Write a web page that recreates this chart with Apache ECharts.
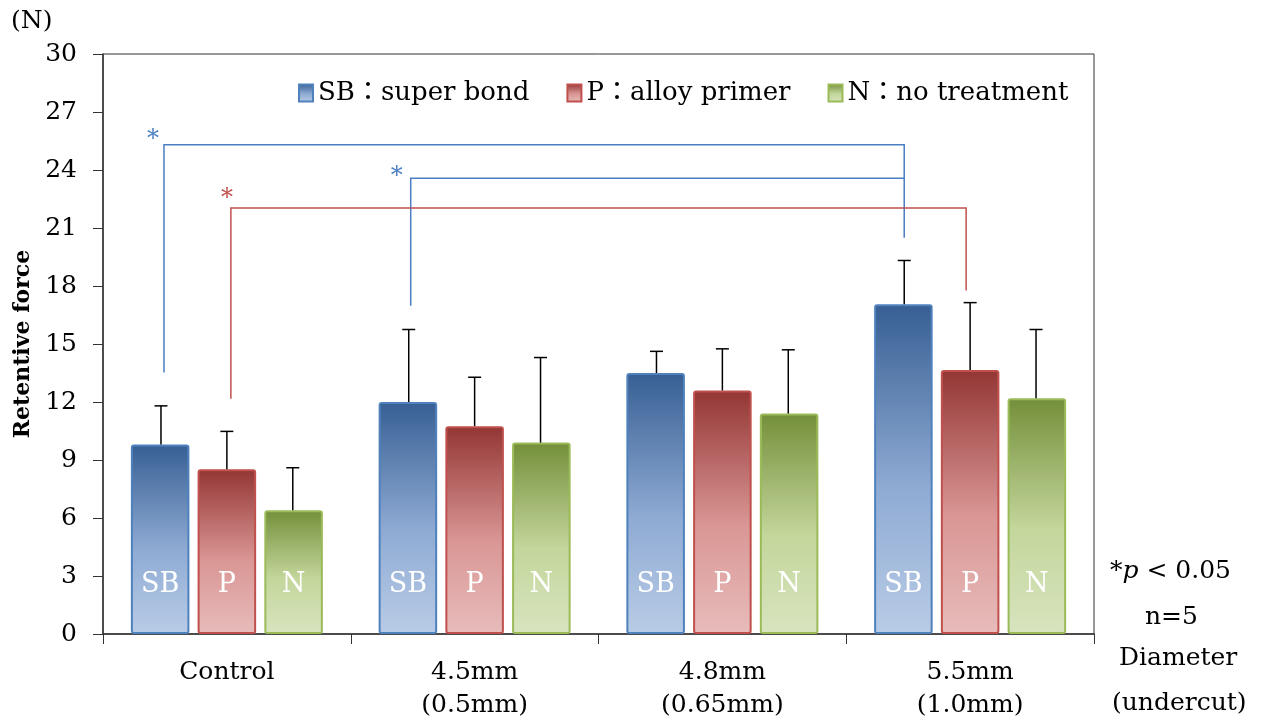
<!DOCTYPE html>
<html>
<head>
<meta charset="utf-8">
<script src="https://cdn.jsdelivr.net/npm/echarts@6/dist/echarts.min.js"></script>
<style>html,body{margin:0;padding:0;background:#fff}#c{width:1263px;height:725px}</style>
</head>
<body>
<div id="c"></div>
<script>
const categories = ['Control', '4.5mm\n(0.5mm)', '4.8mm\n(0.65mm)', '5.5mm\n(1.0mm)'];
const seriesNames = ['SB：super bond', 'P：alloy primer', 'N：no treatment'];
const barLabels = ['SB', 'P', 'N'];
const sbMean = [9.8, 12.0, 13.5, 17.05];
const sbErrTop = [11.8, 15.75, 14.62, 19.32];
const pMean = [8.52, 10.75, 12.6, 13.65];
const pErrTop = [10.48, 13.28, 14.75, 17.14];
const nMean = [6.4, 9.9, 11.4, 12.2];
const nErrTop = [8.6, 14.3, 14.7, 15.75];
const yTicks = [0, 3, 6, 9, 12, 15, 18, 21, 24, 27, 30];
// significance brackets: [catFrom, seriesFrom, catTo, seriesTo, topValue, fromBottom, toBottom]
const bracketA = [0, 0, 3, 0, 25.3, 13.52, 20.5];
const bracketB = [1, 0, 3, 0, 23.57, 16.98, 23.57];
const bracketC = [0, 1, 3, 1, 22.04, 12.17, 17.77];

const FONT = "'DejaVu Serif', 'Noto Sans CJK JP', serif";
const colors = [
  {top:'#375f93', mid:'#8eaad3', bottom:'#b9cce6', border:'#4f81bd', line:'#4a7ec2'},
  {top:'#933634', mid:'#d99694', bottom:'#e7bcbb', border:'#c0504d', line:'#c0504d'},
  {top:'#748f3a', mid:'#c3d69b', bottom:'#d8e4bf', border:'#9bbb59', line:'#9bbb59'}
];
// drawing style tweaks for the brackets (pixel nudges of the line ends and the stars)
const bracketStyle = [
  {dx1: 3, dx2: 0, starDx: -11, starDy: -11},
  {dx1: 2, dx2: 0, starDx: -14, starDy: -8},
  {dx1: 4, dx2: -4, starDx: -4, starDy: -15}
];
const means = [sbMean, pMean, nMean];
const errs = [sbErrTop, pErrTop, nErrTop];
const OFF = 0.266; // fraction of band width between adjacent bar centres

const chart = echarts.init(document.getElementById('c'));
const series = [];
means.forEach((m, i) => {
  series.push({
    type: 'bar', name: seriesNames[i], data: m,
    barGap: '14%', barCategoryGap: '22.5%',
    itemStyle: {
      color: new echarts.graphic.LinearGradient(0, 0, 0, 1, [
        {offset: 0, color: colors[i].top},
        {offset: 0.55, color: colors[i].mid},
        {offset: 1, color: colors[i].bottom}
      ]),
      borderColor: colors[i].border, borderWidth: 2, borderRadius: 2
    },
    label: {show: true, position: 'insideBottom', distance: 36, formatter: barLabels[i],
      color: '#fff', fontSize: 27, fontFamily: FONT},
    z: 2
  });
});
errs.forEach((e, i) => {
  series.push({
    type: 'custom', name: 'err' + i, z: 3, silent: true,
    data: e.map((v, k) => [k, means[i][k], v]),
    renderItem: function (params, api) {
      const band = api.size([1, 0])[0];
      const top = api.coord([api.value(0), api.value(2)]);
      const bot = api.coord([api.value(0), api.value(1)]);
      const x = top[0] + (i - 1) * OFF * band;
      return {type: 'group', children: [
        {type: 'line', shape: {x1: x, y1: bot[1], x2: x, y2: top[1]}, style: {stroke: '#000', lineWidth: 1.5}},
        {type: 'line', shape: {x1: x - 6.5, y1: top[1], x2: x + 6.5, y2: top[1]}, style: {stroke: '#000', lineWidth: 1.5}}
      ]};
    }
  });
});
const brackets = [bracketA, bracketB, bracketC];
const bracketColor = [colors[0].line, colors[0].line, colors[1].line];
series.push({
  type: 'custom', name: 'brackets', z: 4, silent: true,
  data: brackets.map((b, k) => [k]),
  renderItem: function (params, api) {
    const b = brackets[params.dataIndex];
    const st = bracketStyle[params.dataIndex];
    const band = api.size([1, 0])[0];
    const pTop1 = api.coord([b[0], b[4]]);
    const pTop2 = api.coord([b[2], b[4]]);
    const x1 = pTop1[0] + (b[1] - 1) * OFF * band + st.dx1;
    const x2 = pTop2[0] + (b[3] - 1) * OFF * band + st.dx2;
    const yT = pTop1[1];
    const yB1 = api.coord([b[0], b[5]])[1];
    const yB2 = api.coord([b[2], b[6]])[1];
    const col = bracketColor[params.dataIndex];
    return {type: 'group', children: [
      {type: 'polyline', shape: {points: [[x1, yB1], [x1, yT], [x2, yT], [x2, yB2]]},
        style: {stroke: col, lineWidth: 1.5, fill: null}},
      {type: 'text', style: {text: '*', x: x1 + st.starDx, y: yT + st.starDy + 6, fill: col, font: '24px ' + FONT,
        textAlign: 'center', textVerticalAlign: 'middle'}}
    ]};
  }
});

chart.setOption({
  animation: false,
  backgroundColor: '#fff',
  grid: {left: 103, top: 54, right: 169, bottom: 91, show: true, borderColor: '#333', borderWidth: 1},
  legend: {
    data: seriesNames, left: 293, top: 75, icon: 'rect', itemWidth: 14, itemHeight: 17, itemGap: 37,
    textStyle: {fontSize: 26, fontFamily: FONT, color: '#000'}
  },
  xAxis: {
    type: 'category', data: categories,
    axisLine: {lineStyle: {color: '#333', width: 1.5}},
    axisTick: {show: true, length: 10, lineStyle: {color: '#333'}},
    axisLabel: {fontSize: 25, fontFamily: FONT, color: '#000', margin: 22, lineHeight: 33}
  },
  yAxis: {
    type: 'value', min: 0, max: 30, interval: 3,
    axisLine: {show: true, lineStyle: {color: '#333', width: 1.5}},
    axisTick: {show: true, length: 10, lineStyle: {color: '#333'}},
    splitLine: {show: false},
    axisLabel: {fontSize: 25, fontFamily: FONT, color: '#000', margin: 26,
      formatter: v => yTicks.includes(v) ? String(v) : ''},
    name: 'Retentive force', nameLocation: 'middle', nameGap: 61,
    nameTextStyle: {fontSize: 22, fontWeight: 'bold', fontFamily: FONT, color: '#000'}
  },
  graphic: [
    {type: 'text', left: 11, top: 9, style: {text: '(N)', font: '25px ' + FONT, fill: '#000'}},
    {type: 'text', left: 1110, top: 559, style: {
      text: '{a|*}{b|p}{a| < 0.05}',
      rich: {a: {font: '25px ' + FONT, fill: '#000'}, b: {font: 'italic 25px ' + FONT, fill: '#000'}}
    }},
    {type: 'text', left: 1145, top: 605, style: {text: 'n=5', font: '25px ' + FONT, fill: '#000'}},
    {type: 'text', left: 1119, top: 646, style: {text: 'Diameter', font: '25px ' + FONT, fill: '#000'}},
    {type: 'text', left: 1112, top: 691, style: {text: '(undercut)', font: '25px ' + FONT, fill: '#000'}}
  ],
  series: series
});
</script>
</body>
</html>
